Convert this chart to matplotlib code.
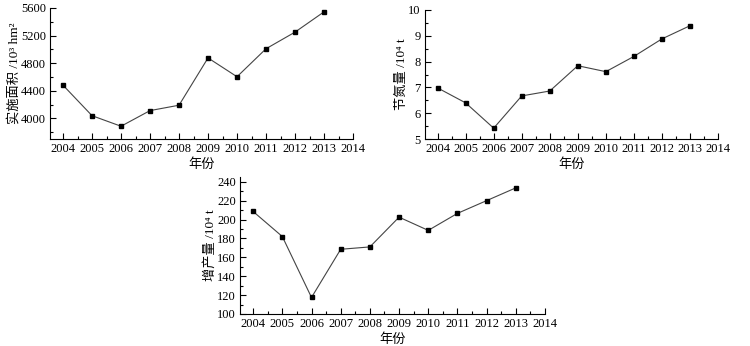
import numpy as np
import matplotlib
matplotlib.use("Agg")
import matplotlib.pyplot as plt
from matplotlib.ticker import MultipleLocator

plt.rcParams['font.family'] = ['Liberation Serif', 'Noto Sans CJK SC', 'DejaVu Sans']

years = [2004, 2005, 2006, 2007, 2008, 2009, 2010, 2011, 2012, 2013]
area = [4480, 4038, 3885, 4112, 4190, 4876, 4603, 5009, 5250, 5544]
nitrogen = [6.98, 6.40, 5.42, 6.67, 6.86, 7.84, 7.61, 8.20, 8.88, 9.39]
yield_inc = [208.5, 182, 117.5, 168.5, 171, 202.5, 188.5, 206.5, 220, 233.5]
xticks = list(range(2004, 2015))

fig = plt.figure(figsize=(7.5, 3.46), dpi=100)
W, H = 750, 346

def make_ax(left, bottom, right, top):
    return fig.add_axes([left / W, 1 - bottom / H, (right - left) / W, (bottom - top) / H])

def style(ax, y, ylim, major, minor, ylabel):
    ax.plot(years, y, color='#444444', lw=0.8, marker='s', ms=3.5,
            mfc='black', mec='black')
    ax.set_xlim(2003.55, 2014)
    ax.set_ylim(*ylim)
    ax.set_xticks(xticks)
    ax.xaxis.set_minor_locator(MultipleLocator(0.5))
    ax.yaxis.set_major_locator(MultipleLocator(major))
    ax.yaxis.set_minor_locator(MultipleLocator(minor))
    ax.spines['top'].set_visible(False)
    ax.spines['right'].set_visible(False)
    for s in ('left', 'bottom'):
        ax.spines[s].set_linewidth(0.8)
    ax.tick_params(which='both', direction='in', labelsize=9, pad=3)
    ax.tick_params(which='major', length=4, width=0.8)
    ax.tick_params(which='minor', length=2.5, width=0.8)
    ax.set_xlabel('年份', fontsize=9.5, labelpad=2)
    ax.set_ylabel(ylabel, fontsize=9.5, labelpad=0)

ax1 = make_ax(50, 139, 353, 8)
style(ax1, area, (3700, 5600), 400, 200, '实施面积 /10³ hm²')

ax2 = make_ax(425, 139, 718, 10)
style(ax2, nitrogen, (5, 10), 1, 0.5, '节氮量 /10⁴ t')

ax3 = make_ax(240, 314, 545, 177)
style(ax3, yield_inc, (100, 245), 20, 10, '增产量 /10⁴ t')

fig.savefig('out.png', dpi=100)
